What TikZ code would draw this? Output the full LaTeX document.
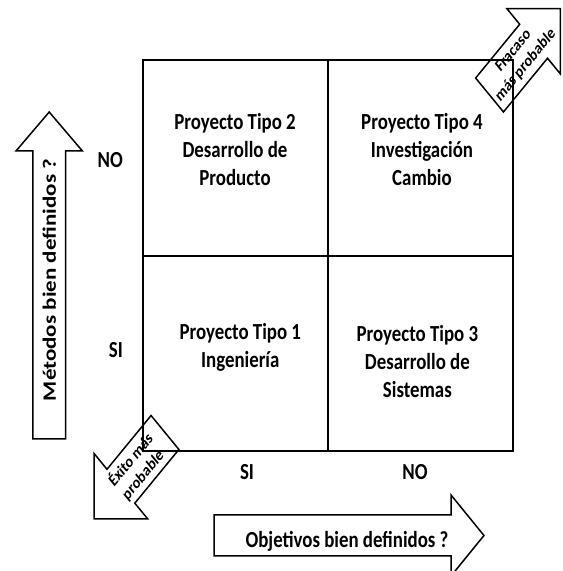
\documentclass[tikz,border=0pt]{standalone}
\usepackage{fontspec}
\setmainfont{Carlito}
\begin{document}
\begin{tikzpicture}[x=1pt,y=1pt,xscale=0.82,
  every node/.append style={transform shape},
  ln/.style={line width=1.5pt, line join=miter},
  cell/.style={draw, line width=1.5pt, minimum width=225.6pt, minimum height=196pt, inner sep=0pt, outer sep=0pt},
  quad/.style={font=\fontsize{23}{28}\selectfont\bfseries, align=center, inner sep=0pt},
  lab/.style={font=\fontsize{23}{28}\selectfont\bfseries, inner sep=0pt},
  diag/.style={font=\fontsize{17}{21}\selectfont\bfseries, align=center, inner sep=0pt}]
\useasboundingbox (0,0) rectangle (685.37,571);
\begin{scope}
\clip (0,0) rectangle (685.37,571);
% cells of the matrix
\node[cell, minimum height=196pt] (c2) at (287.2,413) {};
\node[cell, minimum height=196pt] (c4) at (512.8,413) {};
\node[cell, minimum height=195pt] (c1) at (287.2,217.5) {};
\node[cell, minimum height=195pt] (c3) at (512.8,217.5) {};
% cell texts
\node[quad] (t2) at (286.6,421) {Proyecto Tipo 2\\Desarrollo de\\Producto};
\node[quad] (t4) at (514.6,421) {Proyecto Tipo 4\\Investigación\\Cambio};
\node[quad] (t1) at (293,224) {Proyecto Tipo 1\\Ingeniería};
\node[quad] (t3) at (509,209) {Proyecto Tipo 3\\Desarrollo de\\Sistemas};
% axis labels
\node[lab, anchor=east] (lno) at (150,411) {NO};
\node[lab, anchor=east] (lsi) at (150,221) {SI};
\node[lab] (bsi) at (301.2,99) {SI};
\node[lab] (bno) at (506.1,99) {NO};
% vertical arrow
\draw[ln] (40,132) -- (40,420) -- (19.5,420) -- (60,459) -- (100.5,420) -- (80,420) -- (80,132) -- cycle;
\node[lab, rotate=90] (vt) at (60,291) {Métodos bien definidos ?};
% horizontal arrow
\draw[ln] (261,56) -- (550,56) -- (550,76) -- (590.2,35.5) -- (550,-5) -- (550,15) -- (261,15) -- cycle;
\node[lab] (ht) at (423.2,30) {Objetivos bien definidos ?};
% diagonal arrow: failure
\begin{scope}[shift={(597,476)}, rotate=45]
\draw[ln] (0,-24) -- (76,-24) -- (76,-46) -- (122,0) -- (76,46) -- (76,24) -- (0,24) -- cycle;
\node[diag] (fr) at (52,0) {Fracaso\\más probable};
\end{scope}
% diagonal arrow: success
\begin{scope}[shift={(201.2,138.5)}, rotate=225]
\draw[ln] (0,-24) -- (76,-24) -- (76,-46) -- (122,0) -- (76,46) -- (76,24) -- (0,24) -- cycle;
\node[diag, rotate=180] (ex) at (49,0) {Éxito más\\probable};
\end{scope}
\end{scope}
\end{tikzpicture}
\end{document}
